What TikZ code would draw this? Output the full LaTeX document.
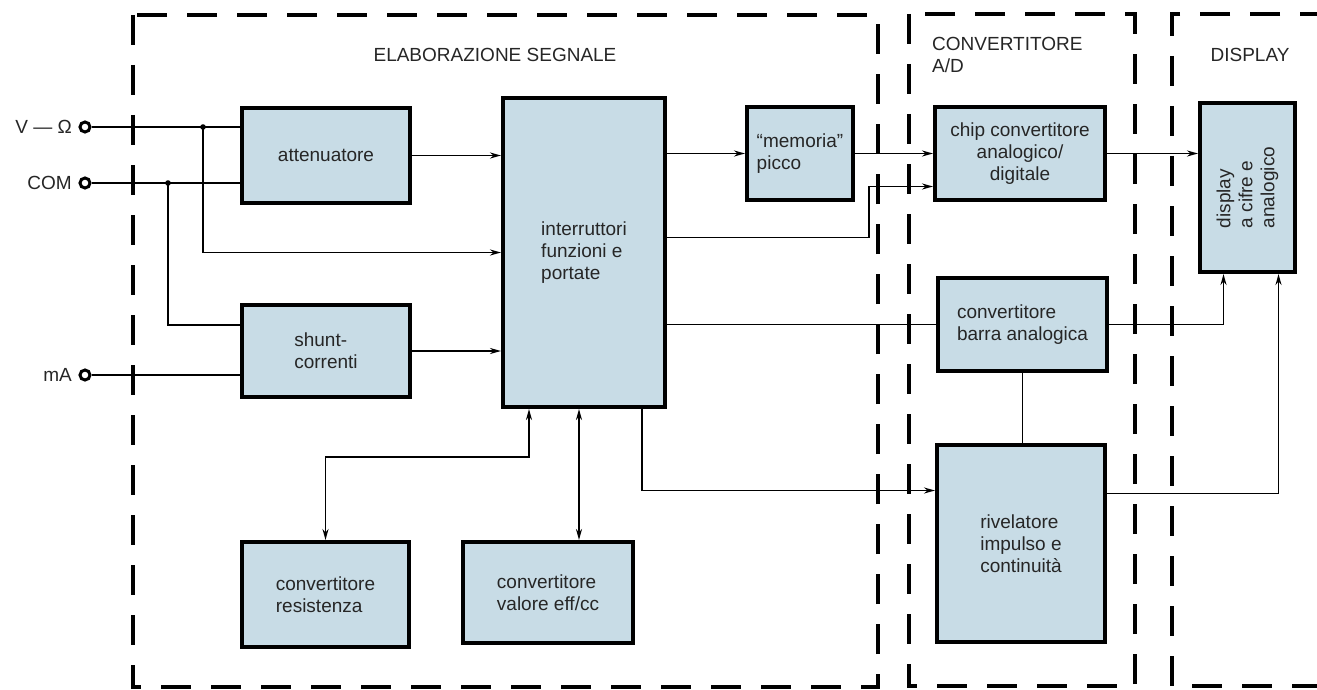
\documentclass[tikz,border=0pt]{standalone}
\usepackage{fontspec}
\setmainfont{Liberation Sans}
\usepackage{xcolor}
\usepackage{tikz}
\usetikzlibrary{arrows.meta,calc}
\definecolor{boxfill}{HTML}{C8DCE6}
\tikzset{>={Stealth[length=11pt, width=6pt]},
    block/.style={draw=black, fill=boxfill, line width=4pt, inner sep=0pt,
      align=left, text=black!85, font=\fontsize{19}{22}\selectfont},
    terminal/.style={circle, draw=black, line width=3pt, minimum size=10pt, inner sep=0pt}}

\begin{document}
\begin{tikzpicture}[x=1pt, y=-1pt, line width=1.8pt,
      frame/.style={line width=3.2pt, dash pattern=on 30pt off 20pt},
      title/.style={text=black!85, font=\fontsize{19}{22}\selectfont}]
  \useasboundingbox (0,0) rectangle (1317,690);
  % Dashed frames
  \draw[frame] (133,15) rectangle (878,687);
  \draw[frame] (909,14) rectangle (1135,686);
  \draw[frame] (1330,14) -- (1172,14) -- (1172,686) -- (1330,686);
  \node[title] (tproc) at (495,55) {ELABORAZIONE SEGNALE};
  \node[title, align=left, anchor=west] (tad) at (928,55) {CONVERTITORE\\A/D};
  \node[title] (tdisp) at (1250,55) {DISPLAY};
  % Inputs
  \node[terminal] (tv) at (85,127) {};
  \node[terminal] (tc) at (85,183) {};
  \node[terminal] (tm) at (85,375) {};
  \node[title, anchor=east] at (76,127) {V --- Ω};
  \node[title, anchor=east] at (76,183) {COM};
  \node[title, anchor=east] at (76,375) {mA};
  \coordinate (jv) at (203,127);
  \coordinate (jc) at (168,183);
  % Blocks
  \node[block, align=center, minimum width=168pt, minimum height=95pt] (att) at (326,155.5) {attenuatore};
  \node[block, minimum width=168pt, minimum height=92pt] (shunt) at (326,351) {shunt-\\correnti};
  \node[block, minimum width=162pt, minimum height=309pt] (sw) at (584,252.5) {interruttori\\funzioni e\\portate};
  \node[block, minimum width=106pt, minimum height=93pt] (mem) at (800,153.5) {``memoria''\\picco};
  \node[block, align=center, minimum width=170pt, minimum height=93pt] (chip) at (1020,153.5) {chip convertitore\\analogico/\\digitale};
  \node[block, minimum width=169pt, minimum height=93pt] (bar) at (1022.5,324.5) {convertitore\\barra analogica};
  \node[block, minimum width=168pt, minimum height=197pt] (riv) at (1021,543.5) {rivelatore\\impulso e\\continuità};
  \node[block, align=center, minimum width=95pt, minimum height=169pt] (disp) at (1247.5,187.5) {};
  \node[rotate=90, align=left, text=black!85, font=\fontsize{19}{22}\selectfont] at (disp.center) {display\\a cifre e\\analogico};
  \node[block, minimum width=167pt, minimum height=105pt] (res) at (325.5,594.5) {convertitore\\resistenza};
  \node[block, minimum width=170pt, minimum height=101pt] (eff) at (548,592.5) {convertitore\\valore eff/cc};
  % Input wiring
  \draw (tv) -- (tv -| att.west);
  \draw (tc) -- (tc -| att.west);
  \draw (tm) -- (tm -| shunt.west);
  \draw[->] (jv) |- (sw.west);
  \draw (jc) |- ([yshift=26pt]shunt.west);
  \fill (jv) circle (2.8pt) (jc) circle (2.8pt);
  \draw[->] (att.east) -- (att.east -| sw.west);
  \draw[->] (shunt.east) -- (shunt.east -| sw.west);
  % To the converters
  \draw[->] (sw.east |- mem.west) -- (mem.west);
  \draw[->] (mem.east) -- (mem.east -| chip.west);
  \draw[->] ([yshift=15pt]sw.east) -- ++(202,0) |- ([yshift=-33pt]chip.west);
  \draw (sw.east |- bar.west) -- (bar.west);
  \draw[->] ([xshift=58pt]sw.south) |- ([yshift=53pt]riv.west);
  \draw (bar.south) -- (bar.south |- riv.north);
  % To the display
  \draw[->] (chip.east) -- (chip.east -| disp.west);
  \draw[->] (bar.east) -| ([xshift=-24pt]disp.south);
  \draw[->] ([yshift=50pt]riv.east) -| ([xshift=31pt]disp.south);
  % Auxiliary converters
  \draw[<->] ([xshift=-55pt]sw.south) -- ++(0,48) -| (res.north);
  \draw[<->] ([xshift=-5pt]sw.south) -- ([xshift=-5pt]sw.south |- eff.north);
\end{tikzpicture}
\end{document}
